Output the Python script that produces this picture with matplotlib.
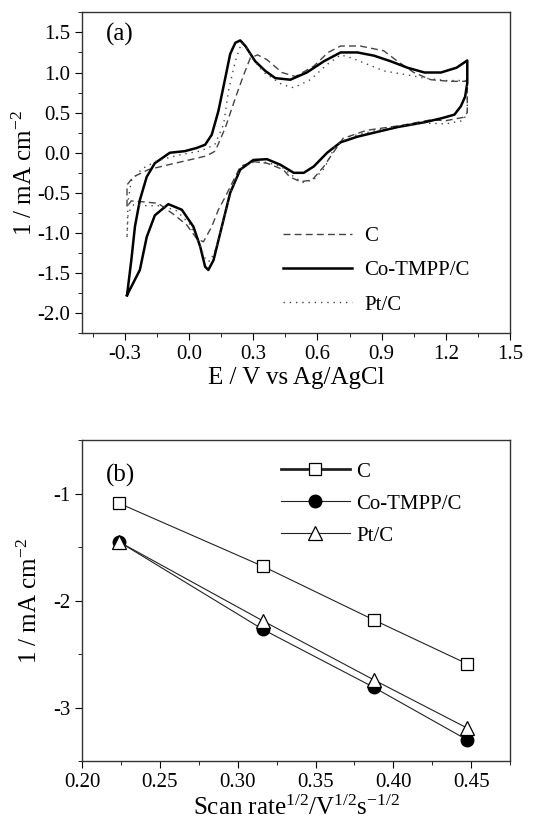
import matplotlib
matplotlib.use('Agg')
from matplotlib import pyplot as plt
from matplotlib.ticker import MultipleLocator

plt.rcParams['font.family'] = ['Liberation Serif', 'DejaVu Serif']
plt.rcParams['mathtext.fontset'] = 'custom'
plt.rcParams['mathtext.rm'] = 'Liberation Serif'
plt.rcParams['mathtext.it'] = 'Liberation Serif:italic'
plt.rcParams['axes.unicode_minus'] = False

# (a) cyclic voltammograms, potential E (V) and current (mA cm-2), one closed loop each
co_E = [-0.29, -0.27, -0.253, -0.23, -0.198, -0.16, -0.09, -0.02, 0.036, 0.075, 0.106, 0.137,
        0.169, 0.192, 0.216, 0.239, 0.263, 0.309, 0.356, 0.403, 0.473, 0.55, 0.63, 0.708, 0.786,
        0.864, 0.942, 1.02, 1.10, 1.177, 1.25, 1.30,
        1.30, 1.29, 1.27, 1.24, 1.18, 1.10, 0.974, 0.864, 0.786, 0.708, 0.645, 0.583, 0.536,
        0.489, 0.427, 0.364, 0.30, 0.239, 0.192, 0.153, 0.114, 0.09, 0.075, 0.052, 0.02,
        -0.034, -0.097, -0.16, -0.198, -0.23, -0.29]
co_I = [-1.775, -1.34, -0.92, -0.59, -0.30, -0.13, 0.0, 0.02, 0.06, 0.10, 0.225, 0.52,
        0.93, 1.23, 1.37, 1.40, 1.33, 1.14, 1.02, 0.93, 0.91, 1.0, 1.14, 1.25, 1.25,
        1.21, 1.14, 1.06, 1.0, 1.0, 1.06, 1.15,
        0.87, 0.70, 0.58, 0.475, 0.43, 0.38, 0.32, 0.25, 0.20, 0.13, 0.0, -0.17, -0.25,
        -0.25, -0.15, -0.08, -0.09, -0.21, -0.50, -0.92, -1.34, -1.46, -1.42, -1.17, -0.92,
        -0.71, -0.64, -0.78, -1.05, -1.46, -1.775]

c_E = [-0.29, -0.29, -0.26, -0.19, -0.097, 0.0, 0.08, 0.122, 0.169, 0.216, 0.255, 0.286, 0.32,
       0.364, 0.434, 0.497, 0.583, 0.65, 0.708, 0.80, 0.91, 0.974, 1.05, 1.13, 1.22, 1.29, 1.30,
       1.30, 1.28, 1.20, 1.13, 0.99, 0.83, 0.72, 0.66, 0.63, 0.575, 0.52, 0.47, 0.44, 0.364,
       0.30, 0.24, 0.208, 0.169, 0.137, 0.106, 0.067, 0.036, -0.011, -0.066, -0.144, -0.22,
       -0.27, -0.29]
c_I = [-0.67, -0.40, -0.30, -0.21, -0.15, -0.09, -0.04, 0.02, 0.31, 0.68, 0.97, 1.18, 1.22,
       1.16, 1.0, 0.95, 1.08, 1.25, 1.33, 1.33, 1.27, 1.14, 1.0, 0.91, 0.89, 0.89, 0.91,
       0.50, 0.44, 0.40, 0.41, 0.34, 0.28, 0.18, -0.05, -0.17, -0.34, -0.36, -0.30, -0.21, -0.13,
       -0.11, -0.17, -0.34, -0.55, -0.71, -0.92, -1.11, -1.07, -0.90, -0.78, -0.63, -0.61,
       -0.60, -0.67]

pt_E = [-0.29, -0.285, -0.27, -0.22, -0.15, -0.05, 0.05, 0.12, 0.161, 0.184, 0.216, 0.245, 0.27,
        0.294, 0.35, 0.434, 0.489, 0.567, 0.645, 0.708, 0.76, 0.817, 0.91, 1.02, 1.10, 1.20, 1.29,
        1.30, 1.30, 1.28, 1.20, 1.10, 0.97, 0.86, 0.75, 0.68, 0.66, 0.63, 0.58, 0.53, 0.49, 0.43,
        0.364, 0.30, 0.24, 0.20, 0.16, 0.13, 0.10, 0.08, 0.05, 0.0, -0.06, -0.13, -0.20, -0.26,
        -0.285, -0.29]
pt_I = [-1.05, -0.60, -0.35, -0.20, -0.10, -0.03, 0.02, 0.10, 0.35, 0.77, 1.14, 1.37, 1.30,
        1.18, 1.0, 0.85, 0.81, 0.91, 1.10, 1.22, 1.18, 1.12, 1.02, 0.97, 0.93, 0.90, 0.90,
        0.85, 0.50, 0.40, 0.36, 0.37, 0.33, 0.27, 0.20, 0.08, -0.05, -0.20, -0.34, -0.37, -0.30, -0.17,
        -0.12, -0.12, -0.20, -0.45, -0.85, -1.15, -1.35, -1.35, -1.15, -0.88, -0.72, -0.66, -0.66, -0.65,
        -0.75, -1.05]

# (b) peak current vs square root of scan rate
rate = [0.2236, 0.3162, 0.3873, 0.4472]
ip_c = [-1.09, -1.68, -2.18, -2.59]
ip_co = [-1.45, -2.27, -2.81, -3.30]
ip_pt = [-1.45, -2.19, -2.74, -3.19]

fig = plt.figure(figsize=(5.33, 8.21), dpi=100)
ax1 = fig.add_axes([0.154, 0.594, 0.803, 0.391])
ax2 = fig.add_axes([0.154, 0.073, 0.803, 0.391])

ax1.plot(c_E, c_I, color='#444444', lw=1.0, dashes=(5, 3), label='C')
ax1.plot(co_E, co_I, color='black', lw=1.8, label='Co-TMPP/C')
ax1.plot(pt_E, pt_I, color='#444444', lw=1.0, dashes=(1, 3.5), label='Pt/C')
ax1.set_xlim(-0.5, 1.5)
ax1.set_ylim(-2.25, 1.75)
ax1.xaxis.set_minor_locator(MultipleLocator(0.15))
ax1.yaxis.set_minor_locator(MultipleLocator(0.25))
ax1.set_xticks([-0.3, 0.0, 0.3, 0.6, 0.9, 1.2, 1.5])
ax1.set_xticklabels(['-0.3', '0.0', '0.3', '0.6', '0.9', '1.2', '1.5'])
ax1.set_yticks([-2.0, -1.5, -1.0, -0.5, 0.0, 0.5, 1.0, 1.5])
ax1.set_yticklabels(['-2.0', '-1.5', '-1.0', '-0.5', '0.0', '0.5', '1.0', '1.5'])
ax1.set_xlabel('E / V vs Ag/AgCl', fontsize=18, labelpad=2)
ax1.set_ylabel('1 / mA cm$^{-2}$', fontsize=18, labelpad=0)
ax1.text(0.055, 0.93, '(a)', transform=ax1.transAxes, fontsize=18, va='center')
ax1.legend(loc='lower right', bbox_to_anchor=(0.95, 0.0), frameon=False, fontsize=15,
           handlelength=3.3, labelspacing=0.7, handletextpad=0.6)

ax2.plot(rate, ip_c, color='#222222', lw=0.8, marker='s', ms=8, mfc='white', mec='black', mew=0.9, label='C')
ax2.plot(rate, ip_co, color='#222222', lw=0.8, marker='o', ms=9, mfc='black', mec='black', label='Co-TMPP/C')
ax2.plot(rate, ip_pt, color='#222222', lw=0.8, marker='^', ms=10, mfc='white', mec='black', mew=0.9, label='Pt/C')
ax2.set_xlim(0.2, 0.475)
ax2.set_ylim(-3.5, -0.5)
ax2.xaxis.set_minor_locator(MultipleLocator(0.025))
ax2.set_xticks([0.20, 0.25, 0.30, 0.35, 0.40, 0.45])
ax2.set_xticklabels(['0.20', '0.25', '0.30', '0.35', '0.40', '0.45'])
ax2.set_yticks([-3, -2, -1])
ax2.yaxis.set_minor_locator(MultipleLocator(0.5))
ax2.set_xlabel('Scan rate$^{1/2}$/V$^{1/2}$s$^{-1/2}$', fontsize=18, labelpad=3)
ax2.set_ylabel('1 / mA cm$^{-2}$', fontsize=18, labelpad=8)
ax2.text(0.055, 0.89, '(b)', transform=ax2.transAxes, fontsize=18, va='center')
leg = ax2.legend(loc='upper right', bbox_to_anchor=(0.93, 0.99), frameon=False, fontsize=15,
                 handlelength=3.3, labelspacing=0.6, handletextpad=0.3)
leg.get_lines()[0].set_linewidth(2.0)

for ax in (ax1, ax2):
    ax.tick_params(which='both', direction='out', labelsize=15, top=False, right=False)
    ax.tick_params(which='major', length=5)
    ax.tick_params(which='minor', length=3)
    for s in ax.spines.values():
        s.set_color('#333333')
        s.set_linewidth(1.0)

fig.savefig('out.png', dpi=100)
